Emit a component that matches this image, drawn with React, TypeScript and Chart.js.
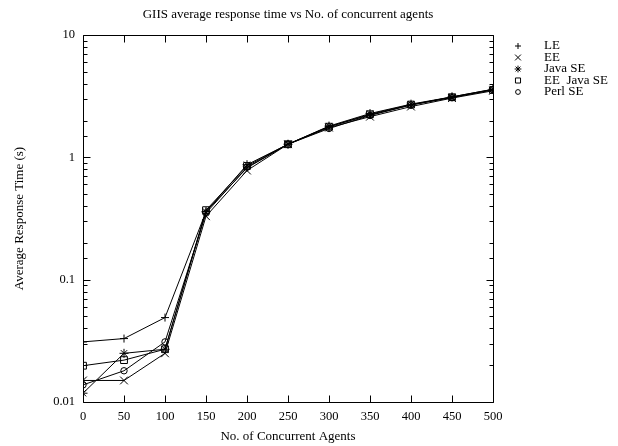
import React, { useEffect, useRef } from "react";
import { Chart, registerables } from "chart.js";
import { drawPoint } from "chart.js/helpers";
Chart.register(...registerables);

const agents = [0, 50, 100, 150, 200, 250, 300, 350, 400, 450, 500];
const leTimes = [0.031, 0.033, 0.049, 0.36, 0.82, 1.28, 1.78, 2.22, 2.68, 3.12, 3.6];
const eeTimes = [0.015, 0.015, 0.025, 0.33, 0.78, 1.28, 1.75, 2.15, 2.6, 3.05, 3.5];
const javaSeTimes = [0.0118, 0.025, 0.027, 0.36, 0.87, 1.28, 1.8, 2.28, 2.72, 3.12, 3.6];
const eeJavaSeTimes = [0.0198, 0.022, 0.027, 0.37, 0.85, 1.28, 1.78, 2.25, 2.7, 3.1, 3.55];
const perlSeTimes = [0.0138, 0.018, 0.031, 0.35, 0.83, 1.28, 1.72, 2.2, 2.68, 3.08, 3.58];

const seriesNames = ["LE", "EE", "Java SE", "EE  Java SE", "Perl SE"];
const seriesValues = [leTimes, eeTimes, javaSeTimes, eeJavaSeTimes, perlSeTimes];
const seriesMarkers = ["cross", "crossRot", "star", "rect", "circle"];
const markerRadius = [4, 5.5, 4.5, 4.8, 3.2];

const yTickLabels = [0.01, 0.1, 1, 10];
const xTicksStep = 50;

const titleText = "GIIS average response time vs No. of concurrent agents";
const xTitleText = "No. of Concurrent Agents";
const yTitleText = "Average Response Time (s)";

const FONT = "'Liberation Serif', 'Times New Roman', serif";

const isMajor = (v: number) => {
  const l = Math.log10(v);
  return Math.abs(l - Math.round(l)) < 1e-6;
};

const framePlugin = {
  id: "gnuplotFrame",
  afterDraw(chart: any) {
    const { ctx, chartArea } = chart;
    const { left, right, top, bottom } = chartArea;
    const xs = chart.scales.x;
    const ys = chart.scales.y;
    ctx.save();
    ctx.strokeStyle = "#000";
    ctx.lineWidth = 1;
    const L = Math.round(left) + 0.5;
    const R = Math.round(right) + 0.5;
    const T = Math.round(top) + 0.5;
    const B = Math.round(bottom) + 0.5;
    ctx.beginPath();
    ctx.rect(L, T, R - L, B - T);
    ctx.stroke();
    ctx.beginPath();
    ys.ticks.forEach((t: any) => {
      const py = Math.round(ys.getPixelForValue(t.value)) + 0.5;
      const len = isMajor(t.value) ? 7 : 4;
      ctx.moveTo(L, py);
      ctx.lineTo(L + len, py);
      ctx.moveTo(R, py);
      ctx.lineTo(R - len, py);
    });
    xs.ticks.forEach((t: any) => {
      const px = Math.round(xs.getPixelForValue(t.value)) + 0.5;
      ctx.moveTo(px, B);
      ctx.lineTo(px, B - 7);
      ctx.moveTo(px, T);
      ctx.lineTo(px, T + 7);
    });
    ctx.stroke();

    ctx.fillStyle = "#000";
    ctx.font = `13px ${FONT}`;
    ctx.textBaseline = "middle";
    ctx.textAlign = "center";
    ctx.fillText(titleText, (left + right) / 2, 15);
    ctx.fillText(xTitleText, (left + right) / 2, 437);
    ctx.save();
    ctx.translate(20, (top + bottom) / 2);
    ctx.rotate(-Math.PI / 2);
    ctx.fillText(yTitleText, 0, 0);
    ctx.restore();

    // legend
    ctx.textAlign = "left";
    chart.data.datasets.forEach((ds: any, i: number) => {
      const yy = 46 + i * 11.5;
      ctx.strokeStyle = "#000";
      ctx.fillStyle = "rgba(0,0,0,0)";
      ctx.lineWidth = 1;
      drawPoint(ctx, { pointStyle: ds.pointStyle, radius: ds.pointRadius * 0.75, rotation: 0, borderWidth: 1 } as any, 518, yy);
      ctx.fillStyle = "#000";
      ctx.fillText(ds.label, 544, yy);
    });
    ctx.restore();
  },
};

export default function App() {
  const ref = useRef<HTMLCanvasElement>(null);
  useEffect(() => {
    if (!ref.current) return;
    Chart.defaults.font.family = FONT;
    const chart = new Chart(ref.current, {
      type: "line",
      data: {
        labels: agents,
        datasets: seriesNames.map((name, i) => ({
          label: name,
          data: agents.map((a, j) => ({ x: a, y: seriesValues[i][j] })),
          borderColor: "#000",
          borderWidth: 1,
          backgroundColor: "rgba(0,0,0,0)",
          pointStyle: seriesMarkers[i] as any,
          pointRadius: markerRadius[i],
          pointBorderColor: "#000",
          pointBackgroundColor: "rgba(0,0,0,0)",
          pointBorderWidth: 1,
          tension: 0,
          fill: false,
        })),
      },
      options: {
        responsive: false,
        animation: false,
        events: [],
        layout: { padding: { left: 0, right: 125, top: 35, bottom: 0 } },
        plugins: { legend: { display: false }, title: { display: false }, tooltip: { enabled: false } },
        scales: {
          x: {
            type: "linear",
            min: 0,
            max: 500,
            grid: { display: false, drawTicks: false },
            border: { display: false },
            ticks: {
              stepSize: xTicksStep,
              autoSkip: false,
              maxRotation: 0,
              padding: 7,
              color: "#000",
              font: { size: 12.5, family: FONT },
            },
            afterFit: (s: any) => {
              s.height = 44;
            },
          },
          y: {
            type: "logarithmic",
            min: 0.01,
            max: 10,
            grid: { display: false, drawTicks: false },
            border: { display: false },
            ticks: {
              autoSkip: false,
              padding: 8,
              color: "#000",
              font: { size: 12.5, family: FONT },
              callback: (v: any) => {
                const n = Number(v);
                const m = yTickLabels.find((l) => Math.abs(n - l) / l < 1e-6);
                return m !== undefined ? String(m) : "";
              },
            },
            afterFit: (s: any) => {
              s.width = 83;
            },
          },
        },
      },
      plugins: [framePlugin],
    });
    return () => chart.destroy();
  }, []);
  return (
    <canvas
      ref={ref}
      width={618}
      height={446}
      style={{ position: "fixed", left: 0, top: 0, width: 618, height: 446, display: "block", background: "#fff" }}
    />
  );
}
